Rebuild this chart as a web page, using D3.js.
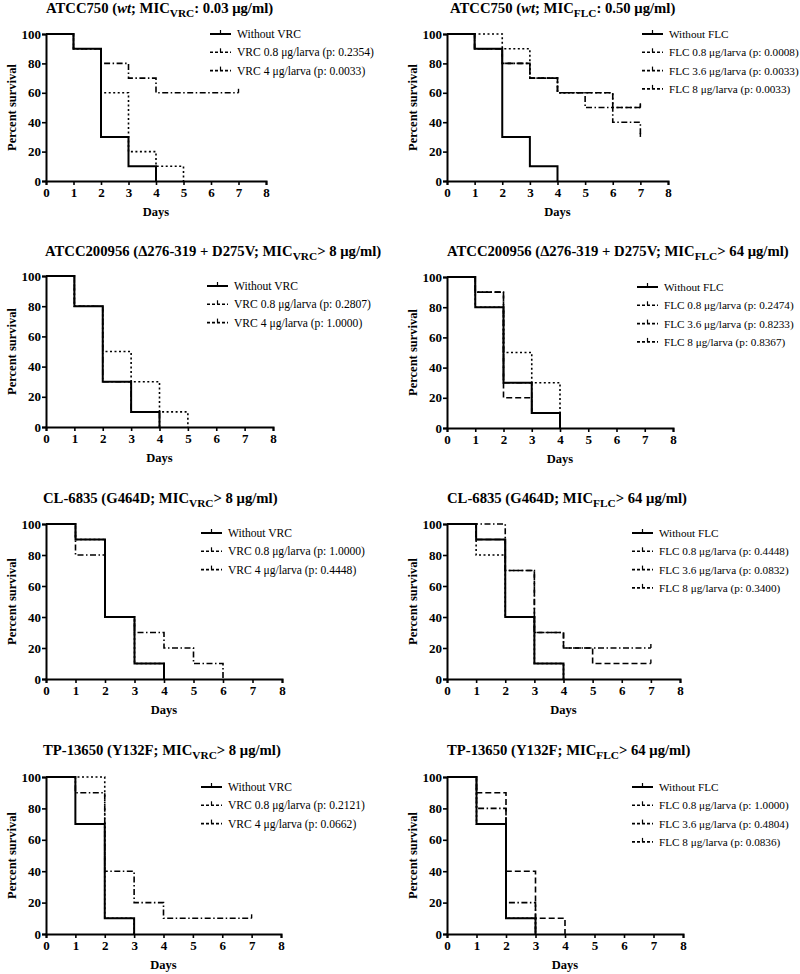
<!DOCTYPE html>
<html><head><meta charset="utf-8">
<script src="https://cdn.jsdelivr.net/npm/d3@7"></script>
<style>body{margin:0;background:#fff}svg{display:block}text{font-family:"Liberation Serif","Times New Roman",serif}</style>
</head><body>
<svg id="c" width="800" height="974"></svg>
<script>
// ---------- data ----------
const dayTicks = [0,1,2,3,4,5,6,7,8];
const survTicks = [0,20,40,60,80,100];
const xLabel = "Days";
const yLabel = "Percent survival";

const titleStrain = ["ATCC750 (", "ATCC750 (", "ATCC200956 (Δ276-319 + D275V; ", "ATCC200956 (Δ276-319 + D275V; ", "CL-6835 (G464D; ", "CL-6835 (G464D; ", "TP-13650 (Y132F; ", "TP-13650 (Y132F; "];
const titleItalic = ["wt", "wt", "", "", "", "", "", ""];
const titleSub = ["VRC", "FLC", "VRC", "FLC", "VRC", "FLC", "VRC", "FLC"];
const titleTail = [": 0.03 μg/ml)", ": 0.50 μg/ml)", "> 8 μg/ml)", "> 64 μg/ml)", "> 8 μg/ml)", "> 64 μg/ml)", "> 8 μg/ml)", "> 64 μg/ml)"];

const legendVRC = ["Without VRC", "VRC 0.8 μg/larva (p: %)", "VRC 4 μg/larva (p: %)"];
const legendFLC = ["Without FLC", "FLC 0.8 μg/larva (p: %)", "FLC 3.6 μg/larva (p: %)", "FLC 8 μg/larva (p: %)"];
const pValues = [
  ["0.2354", "0.0033"],
  ["0.0008", "0.0033", "0.0033"],
  ["0.2807", "1.0000"],
  ["0.2474", "0.8233", "0.8367"],
  ["1.0000", "0.4448"],
  ["0.4448", "0.0832", "0.3400"],
  ["0.2121", "0.0662"],
  ["1.0000", "0.4804", "0.0836"]
];

// survival (%) by day, starting at day 0
const p1Without = [100,90,30,10,0];
const p1Vrc08   = [100,90,60,20,10,0];
const p1Vrc4    = [100,90,80,70,60,60,60,60];

const p2Without = [100,90,30,10,0];
const p2Flc08   = [100,100,90,70,60,60,50,50];
const p2Flc36   = [100,90,80,70,60,50,40,30];
const p2Flc8    = [100,90,80,70,60,60,50,50];

const p3Without = [100,80,30,10,0];
const p3Vrc08   = [100,80,50,30,10,0];
const p3Vrc4    = [100,80,30,10,0];

const p4Without = [100,80,30,10,0];
const p4Flc08   = [100,80,50,30,0];
const p4Flc36   = [100,90,30,10,0];
const p4Flc8    = [100,90,20,10,0];

const p5Without = [100,90,40,10,0];
const p5Vrc08   = [100,90,40,10,0];
const p5Vrc4    = [100,80,40,30,20,10,0];

const p6Without = [100,90,40,10,0];
const p6Flc08   = [100,80,40,10,0];
const p6Flc36   = [100,100,70,30,20,20,20,20];
const p6Flc8    = [100,90,70,30,20,10,10,10];

const p7Without = [100,70,10,0];
const p7Vrc08   = [100,100,10,0];
const p7Vrc4    = [100,90,40,20,10,10,10,10];

const p8Without = [100,70,10,0];
const p8Flc08   = [100,70,10,0];
const p8Flc36   = [100,80,20,0];
const p8Flc8    = [100,90,40,10,0];

const panelSeries = [
  [p1Without, p1Vrc08, p1Vrc4],
  [p2Without, p2Flc08, p2Flc36, p2Flc8],
  [p3Without, p3Vrc08, p3Vrc4],
  [p4Without, p4Flc08, p4Flc36, p4Flc8],
  [p5Without, p5Vrc08, p5Vrc4],
  [p6Without, p6Flc08, p6Flc36, p6Flc8],
  [p7Without, p7Vrc08, p7Vrc4],
  [p8Without, p8Flc08, p8Flc36, p8Flc8]
];

// ---------- layout ----------
const frames = [
  {x0:46, x1:266, y0:181, y1:34, tx:46, ty:13, lx:210, ly:34},
  {x0:447, x1:668, y0:181, y1:34, tx:450, ty:13, lx:642, ly:34},
  {x0:46, x1:273, y0:427, y1:276, tx:45, ty:256, lx:207, ly:286},
  {x0:447, x1:673, y0:428, y1:277, tx:447, ty:256, lx:637, ly:287},
  {x0:46, x1:282, y0:679, y1:524, tx:43, ty:503, lx:201, ly:533},
  {x0:447, x1:680, y0:679, y1:524, tx:447, ty:503, lx:632, ly:533},
  {x0:46, x1:281, y0:934, y1:777, tx:43, ty:755, lx:201, ly:787},
  {x0:447, x1:683, y0:934, y1:777, tx:447, ty:755, lx:632, ly:787}
];
const styles = [
  {dash:null, w:2},
  {dash:"2,2.5", w:1.6},
  {dash:"6,2.5,1.5,2.5", w:1.6},
  {dash:"6,3", w:1.6}
];

const svg = d3.select("#c");

panelSeries.forEach((series, pi) => {
  const f = frames[pi];
  const g = svg.append("g");
  const x = d3.scaleLinear().domain([0,8]).range([f.x0, f.x1]);
  const y = d3.scaleLinear().domain([0,100]).range([f.y0, f.y1]);
  const col = pi % 2;

  // title
  const t = g.append("text").attr("x", f.tx).attr("y", f.ty)
    .attr("font-size", 14.7).attr("font-weight", "bold");
  t.append("tspan").text(titleStrain[pi]);
  if (titleItalic[pi]) {
    t.append("tspan").attr("font-style", "italic").text(titleItalic[pi]);
    t.append("tspan").text("; ");
  }
  t.append("tspan").text("MIC");
  t.append("tspan").attr("font-size", 11.3).attr("dy", 4).text(titleSub[pi]);
  t.append("tspan").attr("dy", -4).text(titleTail[pi]);

  // axes
  const xa = g.append("g").attr("transform", `translate(0,${f.y0})`)
    .call(d3.axisBottom(x).tickValues(dayTicks).tickFormat(d3.format("d")).tickSize(4).tickPadding(3));
  const ya = g.append("g").attr("transform", `translate(${f.x0},0)`)
    .call(d3.axisLeft(y).tickValues(survTicks).tickSize(4).tickPadding(1));
  [xa, ya].forEach(a => {
    a.select(".domain").attr("stroke-width", 2).attr("stroke", "#000");
    a.selectAll(".tick line").attr("stroke-width", 1.6).attr("stroke", "#000");
    a.selectAll(".tick text").attr("font-size", 13).attr("font-weight", "bold")
      .attr("font-family", "Liberation Serif, serif").attr("fill", "#000");
  });
  g.append("text").attr("x", (f.x0 + f.x1) / 2).attr("y", f.y0 + 35)
    .attr("text-anchor", "middle").attr("font-size", 12.5).attr("font-weight", "bold").text(xLabel);
  g.append("text").attr("transform", `translate(${col ? 413 : 12},${(f.y0 + f.y1) / 2}) rotate(-90)`)
    .attr("text-anchor", "middle").attr("dy", "0.35em").attr("font-size", 12.5).attr("font-weight", "bold").text(yLabel);

  // curves (treated first, untreated solid on top)
  d3.range(series.length).reverse().forEach(si => {
    const v = series[si];
    const st = styles[si];
    let d = `M${x(0)},${y(v[0])}`;
    for (let i = 1; i < v.length; i++) d += `H${x(i)}V${y(v[i])}`;
    g.append("path").attr("d", d).attr("fill", "none").attr("stroke", "#000")
      .attr("stroke-width", st.w).attr("stroke-dasharray", st.dash);
    const last = v[v.length - 1];
    if (last > 0) {
      g.append("line").attr("x1", x(v.length - 1)).attr("x2", x(v.length - 1))
        .attr("y1", y(last)).attr("y2", y(last) - 4).attr("stroke", "#000").attr("stroke-width", 1.4);
    }
  });

  // legend
  const labels = col ? legendFLC : legendVRC;
  labels.forEach((lab, li) => {
    const ly = f.ly + li * 18.3;
    const st = styles[li];
    g.append("line").attr("x1", f.lx).attr("x2", f.lx + 21).attr("y1", ly).attr("y2", ly)
      .attr("stroke", "#000").attr("stroke-width", st.w).attr("stroke-dasharray", st.dash ? "3,2" : null);
    g.append("line").attr("x1", f.lx + 10.5).attr("x2", f.lx + 10.5).attr("y1", ly).attr("y2", ly - 4)
      .attr("stroke", "#000").attr("stroke-width", 1.2);
    const txt = li === 0 ? lab : lab.replace("%", pValues[pi][li - 1]);
    g.append("text").attr("x", f.lx + 27).attr("y", ly).attr("dy", "0.35em")
      .attr("font-size", col ? 11.2 : 11.6).text(txt);
  });
});
</script>
</body></html>
